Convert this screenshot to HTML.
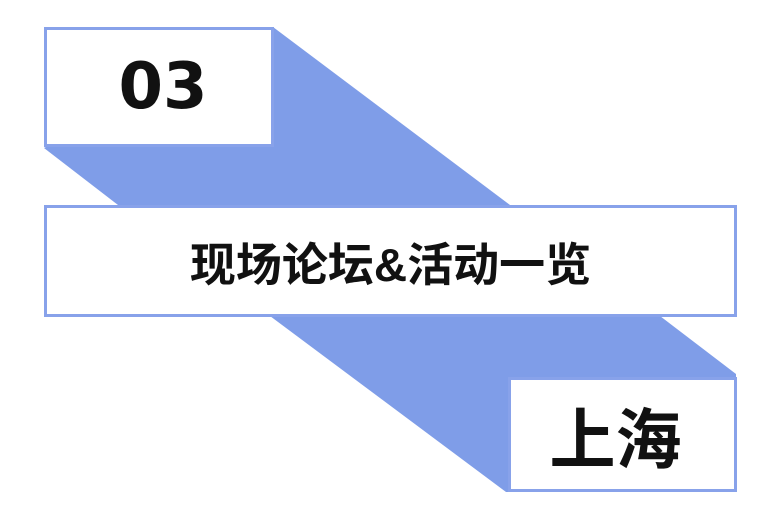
<!DOCTYPE html>
<html><head><meta charset="utf-8"><style>
html,body{margin:0;padding:0;background:#fff;}
body{width:780px;height:520px;position:relative;overflow:hidden;font-family:"Liberation Sans","Noto Sans CJK SC",sans-serif;}
.box{position:absolute;background:#fff;border:3px solid #88a2ea;box-sizing:border-box;display:flex;align-items:center;justify-content:center;color:#111;font-weight:bold;}
</style></head><body>
<svg width="780" height="520" style="position:absolute;left:0;top:0">
<polygon points="273,27 510,205 118,205 44,148" fill="#7f9de8"/>
<polygon points="270,316 660,316 736,374 736,492 506,492" fill="#7f9de8"/>
</svg>
<div class="box" style="left:44px;top:27px;width:230px;height:120px;font-size:64px;padding-left:8px;font-family:'DejaVu Sans','Liberation Sans',sans-serif;">03</div>
<div class="box" style="left:44px;top:205px;width:693px;height:112px;font-size:46px;padding-top:2px;">现场论坛&amp;活动一览</div>
<div class="box" style="left:508px;top:377px;width:229px;height:115px;font-size:66px;padding-top:0px;padding-right:14px;">上海</div>
</body></html>
